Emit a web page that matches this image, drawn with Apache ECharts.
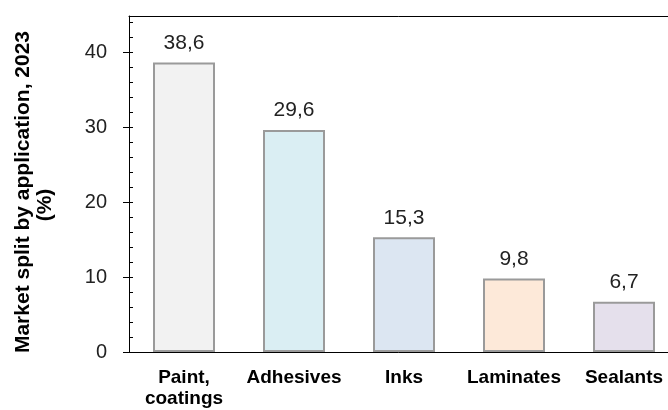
<!DOCTYPE html>
<html>
<head>
<meta charset="utf-8">
<script src="https://cdn.jsdelivr.net/npm/echarts@6/dist/echarts.min.js"></script>
<style>
  html, body { margin: 0; padding: 0; background: #fff; }
  #demo { width: 668px; height: 410px; }
</style>
</head>
<body>
<div id="demo"></div>
<script>
// data
var categories = ['Paint,\ncoatings', 'Adhesives', 'Inks', 'Laminates', 'Sealants'];
var shares = [38.6, 29.6, 15.3, 9.8, 6.7];
var yTicks = [0, 10, 20, 30, 40];
var yMinorTicks = [0, 2, 4, 6, 8, 10, 12, 14, 16, 18, 20, 22, 24, 26, 28, 30, 32, 34, 36, 38, 40, 42, 44];

var barColors = ['#f2f2f2', '#daeef3', '#dce6f2', '#fde9d9', '#e5e0ec'];
var font = 'Liberation Sans, Arial, sans-serif';
var nameStyle = {
  color: '#000',
  fontFamily: font,
  fontWeight: 'bold',
  fontSize: 21,
  lineHeight: 22
};

var myChart = echarts.init(document.getElementById('demo'));
myChart.setOption({
  animation: false,
  grid: {
    left: 129,
    top: 16,
    width: 550,
    height: 336,
    outerBoundsMode: 'none'
  },
  xAxis: [
    {
      type: 'category',
      data: categories,
      z: 5,
      axisLine: { lineStyle: { color: '#000', width: 1 } },
      axisTick: { show: false },
      axisLabel: {
        interval: 0,
        margin: 15,
        color: '#000',
        fontFamily: font,
        fontWeight: 'bold',
        fontSize: 19,
        lineHeight: 21
      }
    },
    {
      // top border of the plot
      type: 'category',
      position: 'top',
      data: categories,
      axisLine: { onZero: false, lineStyle: { color: '#000', width: 1 } },
      axisTick: { show: false },
      axisLabel: { show: false }
    }
  ],
  yAxis: [
    {
      type: 'value',
      min: 0,
      max: 44.8,
      name: '{a|Market split by application, 2023}\n{b|(%)}',
      nameLocation: 'middle',
      nameRotate: 90,
      nameGap: 73,
      nameTextStyle: Object.assign({}, nameStyle, {
        padding: [0, 16, 0, 0],
        rich: {
          a: nameStyle,
          b: Object.assign({}, nameStyle, { padding: [0, 26, 0, 0] })
        }
      }),
      axisLine: { show: true, lineStyle: { color: '#000', width: 1 } },
      axisTick: { show: true, length: 6, lineStyle: { color: '#000' }, customValues: yTicks },
      axisLabel: {
        customValues: yTicks,
        margin: 22,
        color: '#222',
        fontFamily: font,
        fontSize: 20
      },
      splitLine: { show: false }
    },
    {
      // minor ticks drawn on the inner side of the axis
      type: 'value',
      position: 'left',
      min: 0,
      max: 44.8,
      axisLine: { show: false },
      axisTick: { show: true, inside: true, length: 4, lineStyle: { color: '#000' }, customValues: yMinorTicks },
      axisLabel: { show: false },
      splitLine: { show: false }
    }
  ],
  series: [
    {
      type: 'bar',
      barWidth: 62,
      data: shares.map(function (v, i) {
        return { value: v, itemStyle: { color: barColors[i] } };
      }),
      itemStyle: { borderColor: '#9a9a9a', borderWidth: 2 },
      label: {
        show: true,
        position: 'top',
        distance: 9,
        color: '#222',
        fontFamily: font,
        fontSize: 21,
        formatter: function (p) {
          return String(p.value).replace('.', ',');
        }
      }
    }
  ]
});
</script>
</body>
</html>
